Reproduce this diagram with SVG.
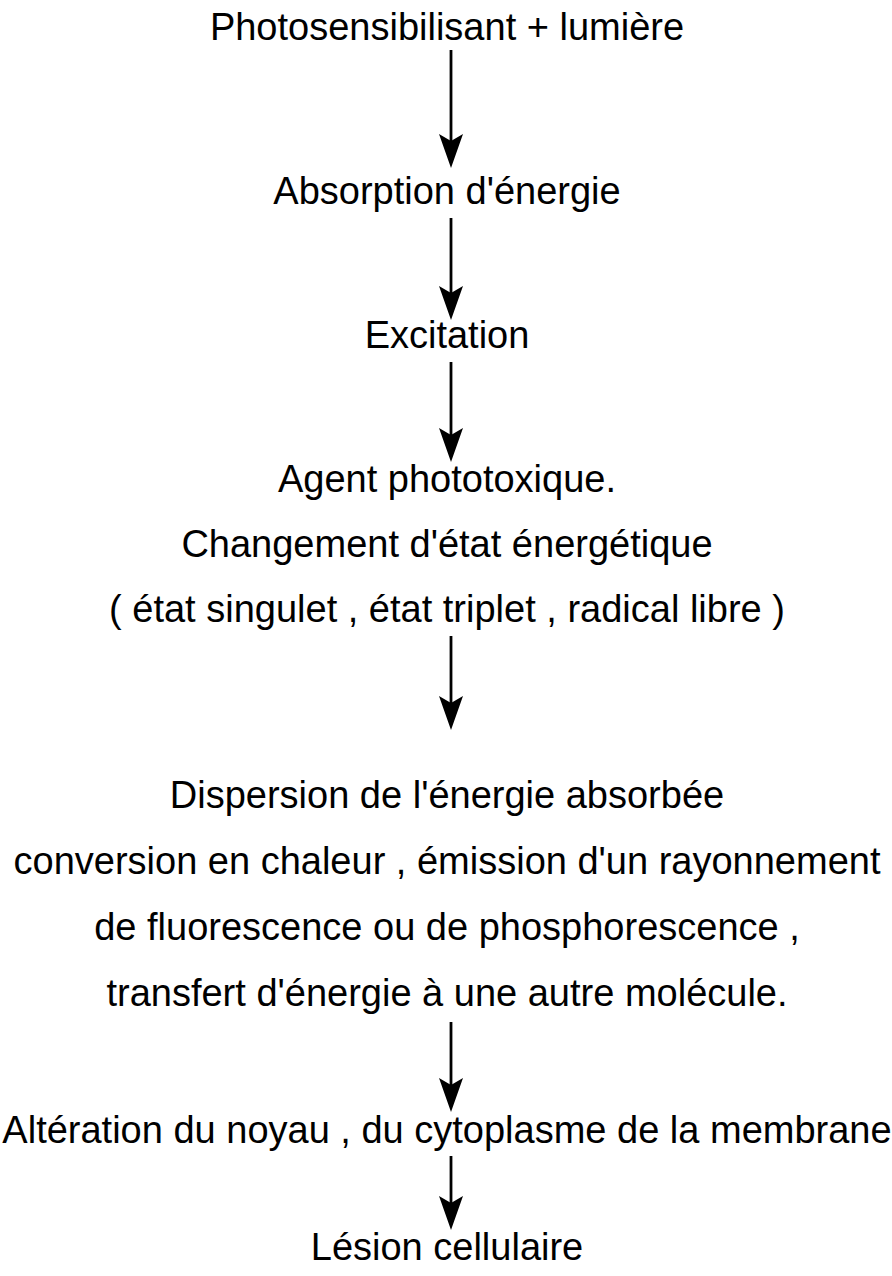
<svg xmlns="http://www.w3.org/2000/svg" width="892" height="1276" viewBox="0 0 892 1276">
<style>
text{font-family:"Liberation Sans",Arial,sans-serif;font-size:38px;fill:#000;text-anchor:middle}
.c{stroke:#000;stroke-width:2.8;fill:none}
</style>
<defs>
<marker id="ah" viewBox="0 0 34 24" refX="24" refY="12" markerWidth="34" markerHeight="24" markerUnits="userSpaceOnUse" orient="auto">
<path d="M0,0 L34,12 L0,24 L7,12 Z" fill="#000"/>
</marker>
</defs>
<rect width="892" height="1276" fill="#fff"/>
<g id="connectors">
<line class="c" x1="451" y1="50" x2="451" y2="158" marker-end="url(#ah)"/>
<line class="c" x1="451" y1="218" x2="451" y2="310" marker-end="url(#ah)"/>
<line class="c" x1="451" y1="362" x2="451" y2="452" marker-end="url(#ah)"/>
<line class="c" x1="451" y1="636" x2="451" y2="720" marker-end="url(#ah)"/>
<line class="c" x1="451" y1="1022" x2="451" y2="1102" marker-end="url(#ah)"/>
<line class="c" x1="451" y1="1156" x2="451" y2="1220" marker-end="url(#ah)"/>
</g>
<g id="n1"><text x="447" y="40">Photosensibilisant + lumière</text></g>
<g id="n2"><text x="447" y="204">Absorption d'énergie</text></g>
<g id="n3"><text x="447" y="348">Excitation</text></g>
<g id="n4">
<text x="447" y="492">Agent phototoxique.</text>
<text x="447" y="557">Changement d'état énergétique</text>
<text x="447" y="622">( état singulet , état triplet , radical libre )</text>
</g>
<g id="n5">
<text x="447" y="808">Dispersion de l'énergie absorbée</text>
<text x="447" y="874">conversion en chaleur , émission d'un rayonnement</text>
<text x="447" y="940">de fluorescence ou de phosphorescence ,</text>
<text x="447" y="1006">transfert d'énergie à une autre molécule.</text>
</g>
<g id="n6"><text x="447" y="1143">Altération du noyau , du cytoplasme de la membrane</text></g>
<g id="n7"><text x="447" y="1260">Lésion cellulaire</text></g>
</svg>
